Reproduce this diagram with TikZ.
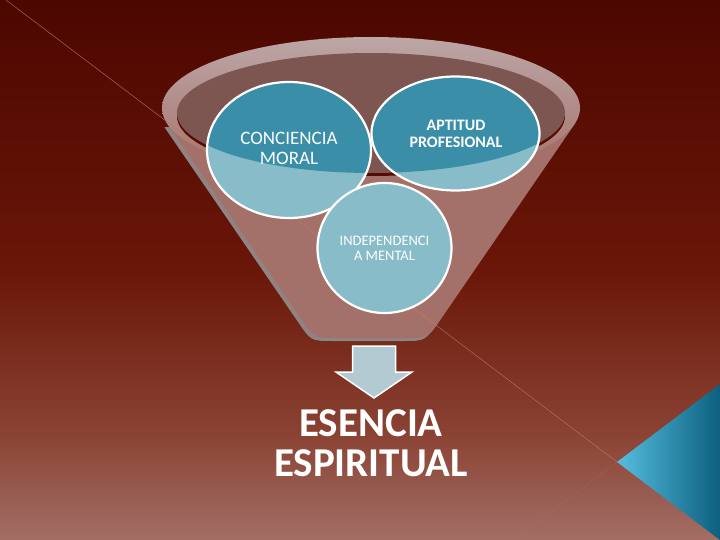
\documentclass[tikz,border=0pt]{standalone}
\usepackage{fontspec}
\setmainfont{Carlito}
\usetikzlibrary{calc}
\definecolor{bgtop}{HTML}{4C0700}
\definecolor{bgmid}{HTML}{6A1608}
\definecolor{bglow}{HTML}{8A4232}
\definecolor{bgbot}{HTML}{A26E66}
\definecolor{funnelbody}{HTML}{A4716A}
\definecolor{funshadow}{HTML}{8E8484}
\definecolor{rimlight}{HTML}{BCA6A6}
\definecolor{liquid}{HTML}{7D5652}
\definecolor{liquidedge}{HTML}{560A04}
\definecolor{tealdark}{HTML}{3A8EA8}
\definecolor{teallight}{HTML}{88BCC9}
\definecolor{arrowfill}{HTML}{B4CAD3}
\definecolor{cornerlight}{HTML}{55BEDF}
\definecolor{cornerdark}{HTML}{0D5F7E}
\definecolor{streak}{HTML}{C07A62}
% stops between 25bp and 75bp: tikz fits that band to the path
\pgfdeclareverticalshading{slidebg}{100bp}{color(0bp)=(bgbot); color(25bp)=(bgbot); color(35bp)=(bglow); color(50bp)=(bgmid); color(75bp)=(bgtop); color(100bp)=(bgtop)}
\tikzstyle{bubble}=[fill=teallight]
\tikzstyle{bubbleedge}=[draw=white, line width=2.2pt]
\tikzstyle{bubbletext}=[text=white, align=center, inner sep=0pt]
\tikzstyle{bigtext}=[text=white, align=center, inner sep=0pt, font=\bfseries\fontsize{41}{40}\selectfont]

\begin{document}
\begin{tikzpicture}[x=1pt, y=-1pt]
\useasboundingbox (0,0) rectangle (720,540);

% background
\shade[shading=slidebg] (0,0) rectangle (720,540);

% thin streaks and blue corner
\coordinate (tip) at (617,462);
\draw[streak, line width=0.4pt, opacity=0.3] (tip) -- (514,540);
\shade[left color=cornerlight, right color=cornerdark] (tip) -- (720,384) -- (720,540) -- cycle;

% funnel
\def\funnelpath{(167.4,124.1) -- (301.6,319.8) .. controls (314,338) .. (336,338) -- (406,338) .. controls (428,338) .. (440.4,319.8) -- (574.6,124.1) -- cycle}
\fill[funshadow, shift={(-3,3)}] \funnelpath;
\fill[funnelbody] \funnelpath;
\shade[top color=rimlight, bottom color=funnelbody] (371,108) ellipse [x radius=209pt, y radius=71pt];
\fill[liquidedge] (371,116) ellipse [x radius=194pt, y radius=60pt];
\fill[liquid] (371,113) ellipse [x radius=194pt, y radius=60pt];
\draw[streak, line width=0.5pt, opacity=0.8] (6,0) -- (tip);

% bubbles
\def\moral{(289,150) ellipse [x radius=82pt, y radius=68pt]}
\def\aptitud{(455.5,133.5) ellipse [x radius=84pt, y radius=57pt]}
\def\mental{(384.5,248) ellipse [x radius=67pt, y radius=65pt]}
\fill[bubble] \moral;
\fill[bubble] \aptitud;
\begin{scope}
  \clip (371,113) ellipse [x radius=194pt, y radius=60pt];
  \fill[tealdark] \moral;
  \fill[tealdark] \aptitud;
\end{scope}
\path[bubbleedge] \moral;
\path[bubbleedge] \aptitud;
\fill[bubble] \mental;
\path[bubbleedge] \mental;

\node[bubbletext, font=\fontsize{19}{20}\selectfont] (concienciamoral) at (289,148) {CONCIENCIA\\MORAL};
\node[bubbletext, font=\bfseries\fontsize{16}{17.5}\selectfont] (aptitudprof) at (456,134) {APTITUD\\PROFESIONAL};
\node[bubbletext, font=\fontsize{14.5}{15}\selectfont] (indepmental) at (384.5,248) {INDEPENDENCI\\A MENTAL};

% arrow down
\filldraw[fill=arrowfill, draw=white, line width=1.5pt, line join=miter]
  (352.5,346) -- (395.5,346) -- (395.5,372) -- (412,372) -- (374,398) -- (336,372) -- (352.5,372) -- cycle;

\node[bigtext] (esencia) at (371,443) {ESENCIA\\ESPIRITUAL};

\end{tikzpicture}
\end{document}
